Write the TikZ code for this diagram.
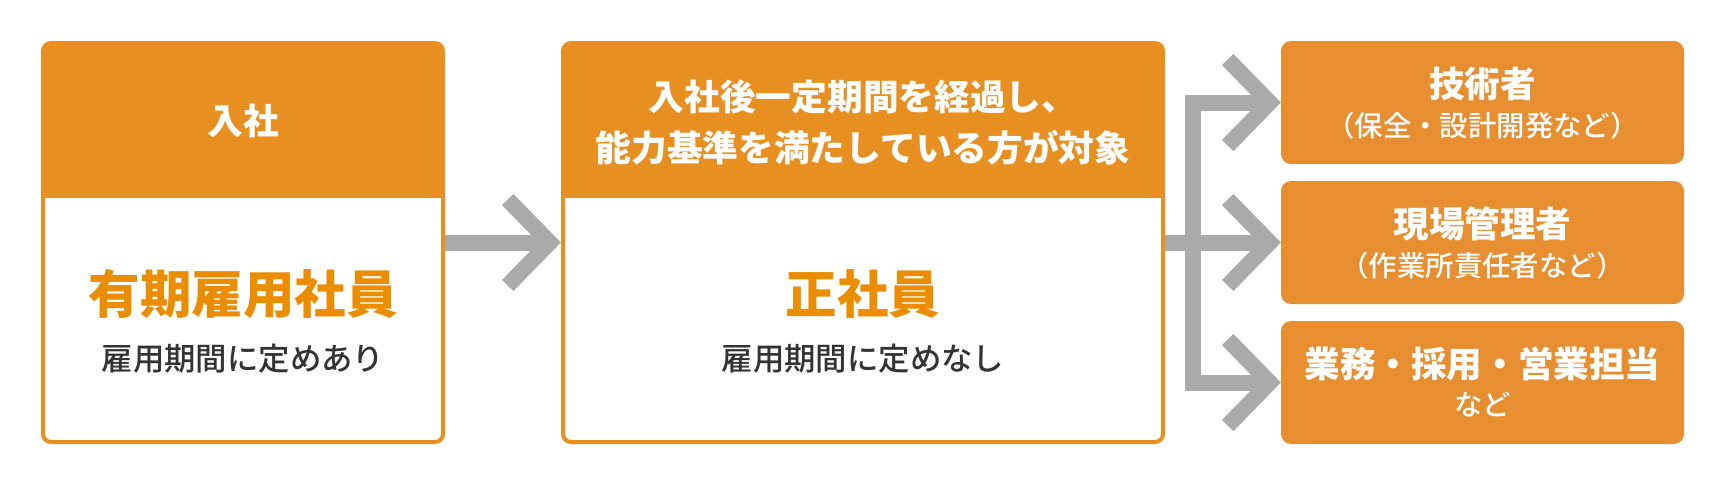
\documentclass[tikz,border=0pt]{standalone}
\usepackage{fontspec}
\setmainfont{Noto Sans CJK JP}
\IfFontExistsTF{Noto Sans CJK JP Medium}
  {\newfontfamily\midfont{Noto Sans CJK JP Medium}}
  {\newfontfamily\midfont{Noto Sans CJK JP}}
\usetikzlibrary{calc,positioning}
\definecolor{brand}{HTML}{E88F22}
\definecolor{brandsoft}{HTML}{E68E30}
\definecolor{brandtext}{HTML}{EB8D00}
\definecolor{inkgray}{HTML}{333333}
\definecolor{flowgray}{HTML}{AAAAAA}
% chevron head at a tip coordinate
\newcommand{\chev}[1]{\draw[flow] ([shift={(-42,-43)}]#1) -- (#1) -- ([shift={(-42,43)}]#1);}

\begin{document}
\begin{tikzpicture}[x=0.5pt, y=-0.5pt,
  panel/.style={draw=brand, line width=2pt, rounded corners=4pt, inner sep=0pt, outer sep=0pt, minimum height=199.5pt},
  role/.style={fill=brandsoft, rounded corners=5pt, inner sep=0pt, outer sep=0pt, minimum width=201.5pt, minimum height=61.5pt},
  headtxt/.style={text=white, font=\bfseries\fontsize{17.85pt}{25.5pt}\selectfont, align=center, inner sep=0pt},
  bigtxt/.style={text=brandtext, font=\bfseries\fontsize{25.75pt}{30pt}\selectfont, inner sep=0pt, text height=22.7pt, text depth=3.1pt},
  subtxt/.style={text=inkgray, font=\midfont\fontsize{15.7pt}{19pt}\selectfont, inner sep=0pt, text height=13.8pt, text depth=1.9pt},
  roletxt/.style={text=white, font=\bfseries\fontsize{17.8pt}{21pt}\selectfont, inner sep=0pt, text height=15.7pt, text depth=2.1pt},
  notetxt/.style={text=white, font=\midfont\fontsize{14.2pt}{17pt}\selectfont, inner sep=0pt, text height=12.5pt, text depth=1.7pt},
  flow/.style={draw=flowgray, line width=8pt, line join=miter}]
  \useasboundingbox (0,0) rectangle (1724,484);

  % the two panels
  \node[panel, minimum width=200pt] (fixed) at (243,242.5) {};
  \node[panel, minimum width=300pt] (regular) at (863,242.5) {};
  \begin{scope}
    \clip (fixed.north west) rectangle (fixed.east |- 0,197);
    \fill[brand, rounded corners=4pt] (fixed.north west) rectangle (fixed.south east);
  \end{scope}
  \begin{scope}
    \clip (regular.north west) rectangle (regular.east |- 0,197);
    \fill[brand, rounded corners=4pt] (regular.north west) rectangle (regular.south east);
  \end{scope}

  \node[headtxt, text height=15.7pt, text depth=2.15pt] (fixedhead) at ([yshift=-39pt]fixed.north) {入社};
  \node[bigtxt] (fixedname) at ([yshift=-25.75pt]fixed.center) {有期雇用社員};
  \node[subtxt] (fixednote) at ([yshift=-58pt]fixed.center) {雇用期間に定めあり};

  \node[headtxt] (regularhead) at ([yshift=-39.75pt]regular.north) {入社後一定期間を経過し、\\能力基準を満たしている方が対象};
  \node[bigtxt] (regularname) at ([yshift=-25.75pt]regular.center) {正社員};
  \node[subtxt] (regularnote) at ([yshift=-58pt]regular.center) {雇用期間に定めなし};

  % career paths
  \node[role] (engineer) at (1482.5,102.5) {};
  \node[role] (sitemgr) at (1482.5,242.5) {};
  \node[role] (office) at (1482.5,382.5) {};
  \node[roletxt] (engineera) at ([yshift=9.5pt]engineer.center) {技術者};
  \node[notetxt] (engineerb) at ([yshift=-11.75pt]engineer.center) {（保全・設計開発など）};
  \node[roletxt] (sitemgra) at ([yshift=9.5pt]sitemgr.center) {現場管理者};
  \node[notetxt] (sitemgrb) at ([yshift=-11.75pt]sitemgr.center) {（作業所責任者など）};
  \node[roletxt] (officea) at ([yshift=9.25pt]office.center) {業務・採用・営業担当};
  \node[notetxt] (officeb) at ([yshift=-11.25pt]office.center) {など};

  % arrows
  \coordinate (tipreg) at ([xshift=-6.65pt]regular.west);
  \coordinate (fork) at ([xshift=15pt]regular.east);
  \foreach \r in {engineer,sitemgr,office}
    \coordinate (tip\r) at ([xshift=-5.65pt]\r.west);
  \draw[flow, shorten <=1pt] (fixed.east) -- (tipreg);
  \draw[flow, shorten <=1pt] (regular.east) -- (tipsitemgr);
  \draw[flow] (tipengineer) -| (fork) |- (tipoffice);
  \chev{tipreg}
  \foreach \r in {engineer,sitemgr,office}
    {\chev{tip\r}}
\end{tikzpicture}
\end{document}
